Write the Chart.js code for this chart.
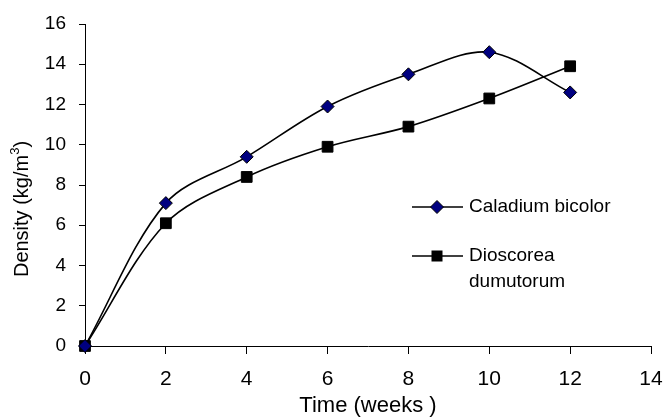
<!DOCTYPE html>
<html>
<head>
<meta charset="utf-8">
<script src="https://cdn.jsdelivr.net/npm/chart.js@4/dist/chart.umd.min.js"></script>
<style>
  html, body { margin: 0; padding: 0; background: #fff; }
  #wrap { width: 663px; height: 419px; }
</style>
</head>
<body>
<div id="wrap"><canvas id="myChart" width="663" height="419"></canvas></div>
<script>
"use strict"

// data
const weeks = [0, 2, 4, 6, 8, 10, 12];
const caladium = [0, 7.1, 9.4, 11.9, 13.5, 14.6, 12.6];
const dioscorea = [0, 6.1, 8.4, 9.9, 10.9, 12.3, 13.9];
const xTicks = [0, 2, 4, 6, 8, 10, 12, 14];
const yTicks = [0, 2, 4, 6, 8, 10, 12, 14, 16];

const FONT = '"Liberation Sans", Arial, sans-serif';
Chart.defaults.font.family = FONT;
Chart.defaults.color = '#000';

function toPoints(ys) {
    return weeks.map((w, i) => ({ x: w, y: ys[i] }));
}

// legend + y title drawn by hand, like the original
const extras = {
    id: 'extras',
    afterDraw(chart) {
        const ctx = chart.ctx;
        ctx.save();
        ctx.strokeStyle = '#000';
        ctx.fillStyle = '#000';
        ctx.font = '19px ' + FONT;
        ctx.textBaseline = 'middle';
        ctx.textAlign = 'left';

        // Caladium bicolor
        ctx.lineWidth = 1.5;
        ctx.beginPath();
        ctx.moveTo(412, 207); ctx.lineTo(463, 207);
        ctx.stroke();
        ctx.beginPath();
        ctx.moveTo(437, 200.5); ctx.lineTo(443.5, 207); ctx.lineTo(437, 213.5); ctx.lineTo(430.5, 207);
        ctx.closePath();
        ctx.fillStyle = '#000080';
        ctx.fill();
        ctx.lineWidth = 1;
        ctx.stroke();
        ctx.fillStyle = '#000';
        ctx.fillText('Caladium bicolor', 469, 207);

        // Dioscorea dumutorum
        ctx.lineWidth = 1.5;
        ctx.beginPath();
        ctx.moveTo(412, 256); ctx.lineTo(463, 256);
        ctx.stroke();
        ctx.fillRect(431.5, 250.5, 11, 11);
        ctx.fillText('Dioscorea', 469, 256);
        ctx.fillText('dumutorum', 469, 282);

        // y axis title with superscript
        ctx.translate(22, 209);
        ctx.rotate(-Math.PI / 2);
        const main = 'Density (kg/m';
        ctx.font = '20px ' + FONT;
        const w1 = ctx.measureText(main).width;
        const w3 = ctx.measureText(')').width;
        ctx.font = '13px ' + FONT;
        const w2 = ctx.measureText('3').width;
        let x0 = -(w1 + w2 + w3) / 2;
        ctx.font = '20px ' + FONT;
        ctx.fillText(main, x0, 0);
        ctx.font = '13px ' + FONT;
        ctx.fillText('3', x0 + w1, -7);
        ctx.font = '20px ' + FONT;
        ctx.fillText(')', x0 + w1 + w2, 0);
        ctx.restore();
    }
};

let theChart = new Chart(document.getElementById('myChart'), {
    type: 'line',
    data: {
        datasets: [{
            label: 'Caladium bicolor',
            data: toPoints(caladium),
            borderColor: '#000',
            borderWidth: 1.6,
            tension: 0.33,
            clip: false,
            pointStyle: 'rectRot',
            pointRadius: 6.5,
            pointBackgroundColor: '#000080',
            pointBorderColor: '#000',
            pointBorderWidth: 1,
            fill: false,
        }, {
            label: 'Dioscorea dumutorum',
            data: toPoints(dioscorea),
            borderColor: '#000',
            borderWidth: 1.6,
            tension: 0.33,
            clip: false,
            pointStyle: 'rect',
            pointRadius: 7.6,
            pointBackgroundColor: '#000',
            pointBorderColor: '#000',
            pointBorderWidth: 1,
            fill: false,
        }]
    },
    options: {
        responsive: false,
        animation: false,
        layout: { padding: { top: 24, right: 12, left: 0, bottom: 0 } },
        scales: {
            x: {
                type: 'linear',
                min: 0,
                max: 14,
                afterFit(scale) {
                    scale.height = 73;
                    scale.paddingLeft = 0;
                    scale.paddingRight = 0;
                },
                afterBuildTicks(scale) { scale.ticks = xTicks.map(v => ({ value: v })); },
                grid: { drawOnChartArea: false, tickLength: 8, color: '#000' },
                border: { color: '#000', width: 1 },
                ticks: { font: { size: 21 }, padding: 13, maxRotation: 0 },
                title: {
                    display: true,
                    text: 'Time (weeks )',
                    font: { size: 22 },
                    padding: { top: 0, bottom: 0 }
                }
            },
            y: {
                min: 0,
                max: 16,
                afterFit(scale) {
                    scale.width = 85;
                    scale.paddingTop = 0;
                    scale.paddingBottom = 0;
                },
                afterBuildTicks(scale) { scale.ticks = yTicks.map(v => ({ value: v })); },
                grid: { drawOnChartArea: false, tickLength: 6, color: '#000' },
                border: { color: '#000', width: 1 },
                ticks: { font: { size: 19 }, padding: 13 }
            }
        },
        plugins: {
            legend: { display: false },
            tooltip: { enabled: false }
        }
    },
    plugins: [extras]
});
</script>
</body>
</html>
